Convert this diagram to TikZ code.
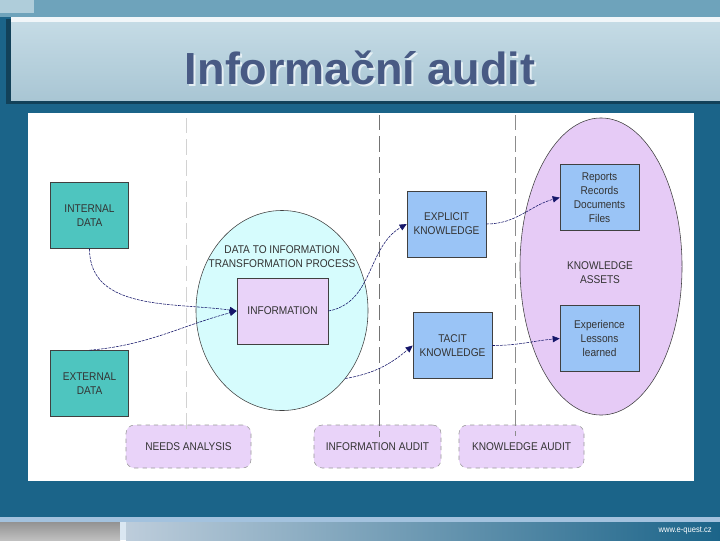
\documentclass[tikz,border=0pt]{standalone}
\usepackage{fontspec}
\setmainfont{Liberation Sans}
\newfontfamily\diagfont[FakeStretch=0.9]{Liberation Sans}
\usetikzlibrary{arrows.meta,positioning,shapes.geometric}
\definecolor{slideC}{HTML}{1B6489}
\definecolor{stripeC}{HTML}{6EA3BB}
\definecolor{bandTopC}{HTML}{C6DCE6}
\definecolor{bandBotC}{HTML}{A9C6D4}
\definecolor{titleC}{HTML}{485A84}
\definecolor{tealC}{HTML}{4EC5BF}
\definecolor{cyanC}{HTML}{D6FCFD}
\definecolor{lavC}{HTML}{E9D3F9}
\definecolor{purpC}{HTML}{E6CBF6}
\definecolor{blueC}{HTML}{9AC4F6}
\definecolor{arrowC}{HTML}{15166A}
\definecolor{footLineC}{HTML}{A3C2DE}

\begin{document}
\begin{tikzpicture}[x=0.025cm,y=-0.025cm,
  every node/.style={font=\diagfont\fontsize{8}{10}\selectfont,align=center,inner sep=0pt,text=black!80},
  srcbox/.style={draw=black!75,fill=tealC,minimum width=1.95cm,minimum height=1.65cm},
  knowbox/.style={draw=black!75,fill=blueC,minimum width=1.975cm,minimum height=1.65cm},
  auditbox/.style={draw=gray!80,dashed,fill=lavC,rounded corners=6pt,minimum height=1.075cm},
  flow/.style={arrowC,thin,dash pattern=on 2pt off 0.7pt,-{Triangle[length=5pt,width=4.5pt]}},
  audline/.style={dash pattern=on 11pt off 4pt,semithick}]
  % Slide background
  \fill[slideC] (0,0) rectangle (720,540);
  \useasboundingbox (0,0) rectangle (720,540);
  \fill[stripeC] (0,0) rectangle (720,17);
  \fill[white!45!stripeC] (0,0) rectangle (34,13);

  % Title band
  \fill[black!35!slideC] (6,19) rectangle (720,104);
  \shade[top color=bandTopC,bottom color=bandBotC] (11,18) rectangle (720,100);
  \fill[white!75!bandTopC] (11,17) rectangle (720,22);
  \node[font=\bfseries\fontsize{32}{36}\selectfont,text=white!55!bandTopC] (titleshadow) at (362,70) {Informační audit};
  \node[font=\bfseries\fontsize{32}{36}\selectfont,text=titleC] (title) at (360,68) {Informační audit};

  % Footer
  \fill[footLineC] (0,517) rectangle (720,522);
  \shade[left color=white!40!footLineC!85!gray,right color=slideC] (126,522) rectangle (720,540);
  \shade[top color=gray!85,bottom color=gray!50] (0,522) rectangle (120,540);
  \fill[white!60!footLineC] (120,522) rectangle (126,540);
  \node[text=white,font=\diagfont\fontsize{6}{7}\selectfont,anchor=east] (web) at (712,531) {www.e-quest.cz};

  % Diagram panel
  \fill[white] (28,113) rectangle (694,481);

  % Ellipses
  \node[ellipse,draw=black!75,fill=cyanC,minimum width=4.3cm,minimum height=5cm] (proc) at (282,310.5) {};
  \node[ellipse,draw=black!75,fill=purpC,minimum width=4.05cm,minimum height=7.425cm] (assets) at (601,266.5) {};
  \node (proclabel) at (282,256.5) {DATA TO INFORMATION\\TRANSFORMATION PROCESS};
  \node (assetlabel) at (600,273) {KNOWLEDGE\\ASSETS};

  % Boxes
  \node[srcbox] (intdata) at (89.5,215.5) {INTERNAL\\DATA};
  \node[srcbox] (extdata) at (89.5,383.5) {EXTERNAL\\DATA};
  \node[draw=black!75,fill=lavC,minimum width=2.275cm,minimum height=1.65cm] (info) at (282.5,311) {INFORMATION};
  \node[knowbox] (explicit) at (446.5,224) {EXPLICIT\\KNOWLEDGE};
  \node[knowbox] (tacit) at (452.5,345.5) {TACIT\\KNOWLEDGE};
  \node[knowbox] (reports) at (599.5,197.5) {Reports\\Records\\Documents\\Files};
  \node[knowbox] (experience) at (599.5,338.5) {Experience\\Lessons\\learned};

  % Audit boxes
  \node[auditbox,minimum width=3.125cm] (needs) at (188.5,446.5) {NEEDS ANALYSIS};
  \node[auditbox,minimum width=3.175cm] (infoaudit) at (377.5,446.5) {INFORMATION AUDIT};
  \node[auditbox,minimum width=3.125cm] (knowaudit) at (521.5,446.5) {KNOWLEDGE AUDIT};

  % Phase separators
  \draw[audline,gray!35] (186,118) -- (186,429);
  \draw[audline,black!55] (379,115) -- (379,437);
  \draw[audline,black!45] (515,115) -- (515,436);

  % Flows
  \draw[flow] (intdata.south) to[out=-90,in=172] (info.west);
  \draw[flow] (extdata.north) to[out=5,in=195] (info.west);
  \draw[flow] (info.east) to[out=10,in=210] (explicit.west);
  \draw[flow] (proc.-47) to[out=10,in=220] (tacit.west);
  \draw[flow] (explicit.east) to[out=0,in=195] (reports.west);
  \draw[flow] (tacit.east) to[out=0,in=185] (experience.west);
\end{tikzpicture}
\end{document}
